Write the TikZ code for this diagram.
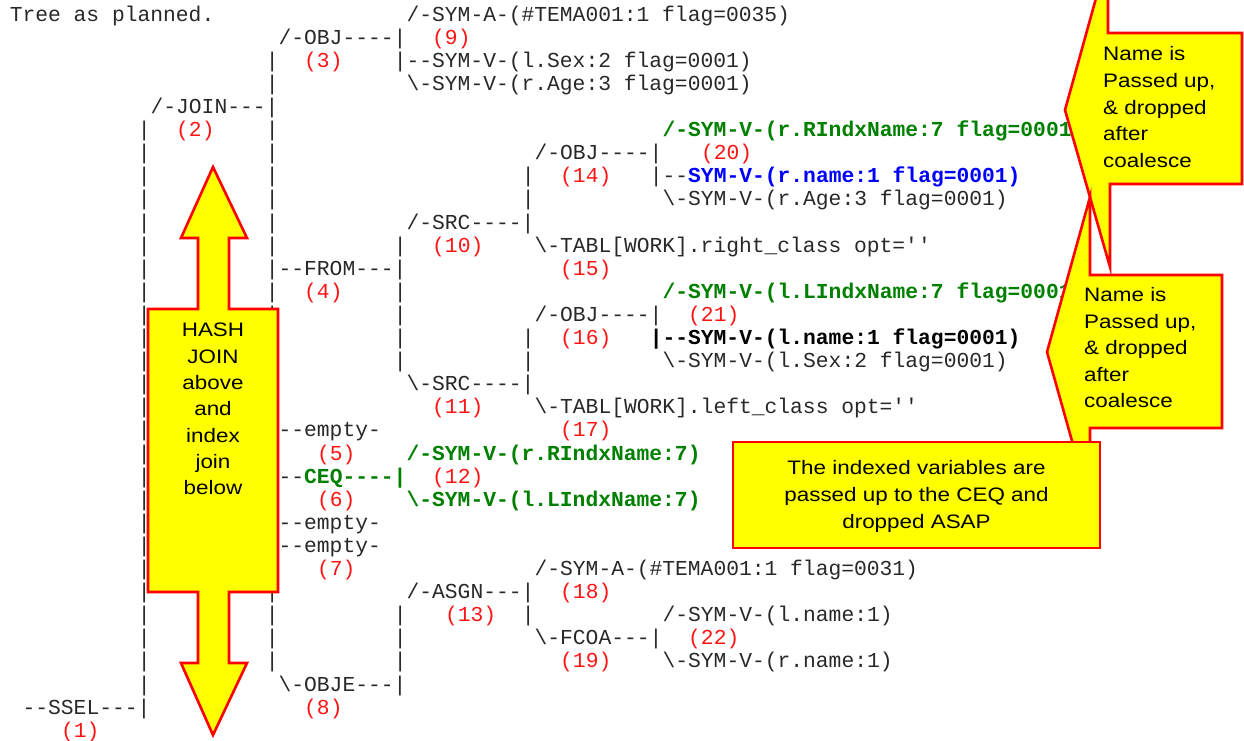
\documentclass[tikz,border=0pt]{standalone}
\usepackage{fontspec}
\usepackage{tikz}

\newfontfamily\treefont{Liberation Mono}[Ligatures=TeXOff]
\newfontfamily\notefont{Liberation Sans}
\definecolor{treegray}{RGB}{40,40,40}
\definecolor{numred}{RGB}{255,20,20}
\definecolor{idxgreen}{RGB}{0,128,0}
\definecolor{nameblue}{RGB}{0,0,255}
\definecolor{noteyellow}{RGB}{255,255,0}

% one cell of the listing: column, row, text
\newcommand\tcell[4][txt]{\node[#1] (t-#2-#3) at ({9.6+12.8*#2},{21.1+23.1*#3}) {#4};}
\newcommand\bs{\textbackslash}

\begin{document}
\begin{tikzpicture}[x=1pt,y=-1pt,
      txt/.style = {anchor=base west, inner sep=0pt, text=treegray,
                    font=\treefont\fontsize{21.3}{23}\selectfont},
      num/.style = {txt, text=numred},
      grn/.style = {txt, text=idxgreen, font=\treefont\bfseries\fontsize{21.3}{23}\selectfont},
      blu/.style = {txt, text=nameblue, font=\treefont\bfseries\fontsize{21.3}{23}\selectfont},
      bld/.style = {txt, text=black, font=\treefont\bfseries\fontsize{21.3}{23}\selectfont},
      note/.style = {fill=noteyellow, draw=red, line width=2.6pt, line join=miter},
      notetxt/.style = {inner sep=0pt, anchor=base west, text=black, xscale=1.15,
                        font=\notefont\fontsize{19.5}{26}\selectfont}]

  \useasboundingbox (0,0) rectangle (1244,741);
  \clip (0,0) rectangle (1244,741);

  % Tree bars
  \foreach \r in {5,...,29} {\tcell{10}{\r}{|}}
  \foreach \r in {2,3,5,6,...,28} {\tcell{20}{\r}{|}}
  \foreach \r in {10,12,13,14,15,26,27,28} {\tcell{30}{\r}{|}}
  \foreach \r in {7,8,14,15,26} {\tcell{40}{\r}{|}}

  % Tree text
  \tcell{0}{0}{Tree as planned.}
  \tcell{31}{0}{/-SYM-A-(\#TEMA001:1 flag=0035)}
  \tcell{21}{1}{/-OBJ----|}
  \tcell[num]{33}{1}{(9)}
  \tcell[num]{23}{2}{(3)}
  \tcell{30}{2}{|--SYM-V-(l.Sex:2 flag=0001)}
  \tcell{31}{3}{\bs-SYM-V-(r.Age:3 flag=0001)}
  \tcell{11}{4}{/-JOIN---|}
  \tcell[num]{13}{5}{(2)}
  \tcell[grn]{51}{5}{/-SYM-V-(r.RIndxName:7 flag=0001)}
  \tcell{41}{6}{/-OBJ----|}
  \tcell[num]{54}{6}{(20)}
  \tcell[num]{43}{7}{(14)}
  \tcell{50}{7}{|--}
  \tcell[blu]{53}{7}{SYM-V-(r.name:1 flag=0001)}
  \tcell{51}{8}{\bs-SYM-V-(r.Age:3 flag=0001)}
  \tcell{31}{9}{/-SRC----|}
  \tcell[num]{33}{10}{(10)}
  \tcell{41}{10}{\bs-TABL[WORK].right\_class opt=''}
  \tcell{21}{11}{--FROM---|}
  \tcell[num]{43}{11}{(15)}
  \tcell[num]{23}{12}{(4)}
  \tcell[grn]{51}{12}{/-SYM-V-(l.LIndxName:7 flag=0001)}
  \tcell{41}{13}{/-OBJ----|}
  \tcell[num]{53}{13}{(21)}
  \tcell[num]{43}{14}{(16)}
  \tcell[bld]{50}{14}{|--SYM-V-(l.name:1 flag=0001)}
  \tcell{51}{15}{\bs-SYM-V-(l.Sex:2 flag=0001)}
  \tcell{31}{16}{\bs-SRC----|}
  \tcell[num]{33}{17}{(11)}
  \tcell{41}{17}{\bs-TABL[WORK].left\_class opt=''}
  \tcell{21}{18}{--empty-}
  \tcell[num]{43}{18}{(17)}
  \tcell[num]{24}{19}{(5)}
  \tcell[grn]{31}{19}{/-SYM-V-(r.RIndxName:7)}
  \tcell{21}{20}{--}
  \tcell[grn]{23}{20}{CEQ----|}
  \tcell[num]{33}{20}{(12)}
  \tcell[num]{24}{21}{(6)}
  \tcell[grn]{31}{21}{\bs-SYM-V-(l.LIndxName:7)}
  \tcell{21}{22}{--empty-}
  \tcell{21}{23}{--empty-}
  \tcell[num]{24}{24}{(7)}
  \tcell{41}{24}{/-SYM-A-(\#TEMA001:1 flag=0031)}
  \tcell{31}{25}{/-ASGN---|}
  \tcell[num]{43}{25}{(18)}
  \tcell[num]{34}{26}{(13)}
  \tcell{51}{26}{/-SYM-V-(l.name:1)}
  \tcell{41}{27}{\bs-FCOA---|}
  \tcell[num]{53}{27}{(22)}
  \tcell[num]{43}{28}{(19)}
  \tcell{51}{28}{\bs-SYM-V-(r.name:1)}
  \tcell{21}{29}{\bs-OBJE---|}
  \tcell{1}{30}{--SSEL---|}
  \tcell[num]{23}{30}{(8)}
  \tcell[num]{4}{31}{(1)}

  % Callout top right
  \filldraw[note] (1108,-45) -- (1065,110) -- (1110,267) -- (1110,184)
     -- (1242,184) -- (1242,33) -- (1108,33) -- cycle;
  \foreach \t [count=\i from 0] in {Name is, {Passed up,}, \& dropped, after, coalesce}
    \node[notetxt] (up-\i) at (1103,{60.7+26.7*\i}) {\t};

  % Callout lower right
  \filldraw[note] (1090,197) -- (1047,352) -- (1090,505) -- (1090,428)
     -- (1222,428) -- (1222,275) -- (1090,275) -- cycle;
  \foreach \t [count=\i from 0] in {Name is, {Passed up,}, \& dropped, after, coalesce}
    \node[notetxt] (lo-\i) at (1084,{301.7+26.5*\i}) {\t};

  % CEQ box
  \filldraw[note] (733,442) rectangle (1100,548);
  \foreach \t [count=\i from 0] in {The indexed variables are, passed up to the CEQ and, dropped ASAP}
    \node[notetxt, anchor=base] (ceq-\i) at (916.5,{474.7+26.7*\i}) {\t};

  % Hash join arrow
  \filldraw[note] (213,167) -- (247,238) -- (229,238) -- (229,309) -- (278,309)
     -- (278,592) -- (229,592) -- (229,663) -- (247,663) -- (213,735)
     -- (181,663) -- (198,663) -- (198,592) -- (148,592) -- (148,309)
     -- (198,309) -- (198,238) -- (181,238) -- cycle;
  \foreach \t [count=\i from 0] in {HASH, JOIN, above, and, index, join, below}
    \node[notetxt, anchor=base] (hj-\i) at (213,{336.7+26.33*\i}) {\t};

\end{tikzpicture}
\end{document}
